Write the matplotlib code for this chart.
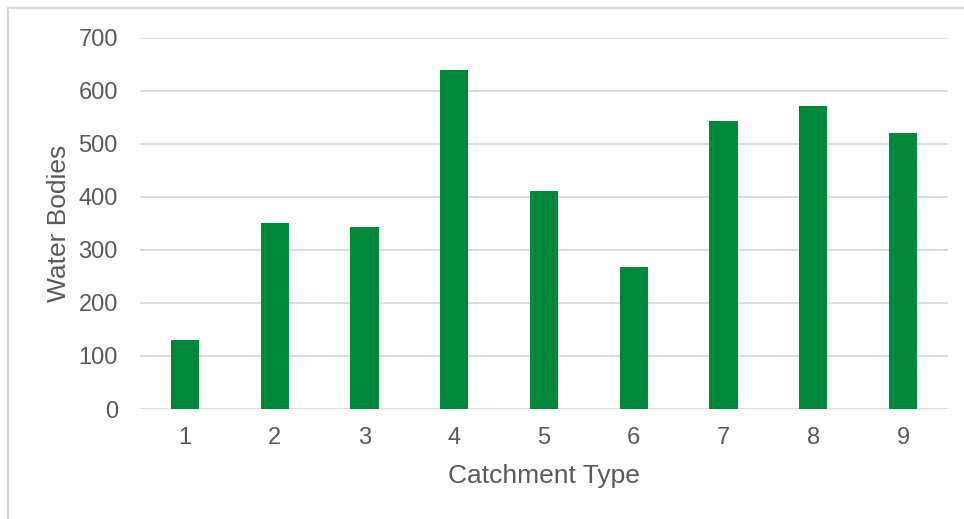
import matplotlib
matplotlib.use("Agg")
import matplotlib.pyplot as plt
from matplotlib.lines import Line2D

# Number of water bodies per catchment type
catchment_types = ["1", "2", "3", "4", "5", "6", "7", "8", "9"]
water_bodies = [130, 350, 343, 639, 411, 267, 543, 570, 520]
y_ticks = [0, 100, 200, 300, 400, 500, 600, 700]

plt.rcParams["font.family"] = ["Liberation Sans", "DejaVu Sans"]

W, H = 964, 519
fig = plt.figure(figsize=(W / 100, H / 100), dpi=100)
fig.patch.set_facecolor("white")

ax = fig.add_axes([140 / W, 1 - 409 / H, 808 / W, (409 - 37.5) / H])
x = range(len(catchment_types))
ax.bar(x, water_bodies, width=0.315, color="#00883A", zorder=3)

ax.set_xlim(-0.5, len(catchment_types) - 0.5)
ax.set_ylim(0, 700)
ax.set_yticks(y_ticks)
ax.set_xticks(list(x))
ax.set_xticklabels(catchment_types)

grid_color = "#d9d9d9"
ax.yaxis.grid(True, color=grid_color, linewidth=1.3, zorder=0)
ax.set_axisbelow(True)
for side in ["top", "right", "left", "bottom"]:
    ax.spines[side].set_visible(False)

text_color = "#595959"
ax.tick_params(axis="both", length=0, labelsize=17, labelcolor=text_color)
ax.tick_params(axis="y", pad=16)
ax.tick_params(axis="x", pad=13)

ax.set_xlabel("Catchment Type", fontsize=19, color=text_color, labelpad=11)
ax.set_ylabel("Water Bodies", fontsize=19, color=text_color, labelpad=5)

# Light chart-area frame (left and top edges)
fig.add_artist(Line2D([7.5 / W, 7.5 / W], [0, 1 - 8 / H], transform=fig.transFigure,
                      color=grid_color, linewidth=1.5))
fig.add_artist(Line2D([7.5 / W, 1], [1 - 8 / H, 1 - 8 / H], transform=fig.transFigure,
                      color=grid_color, linewidth=1.5))

fig.savefig("out.png", dpi=100, facecolor="white")
